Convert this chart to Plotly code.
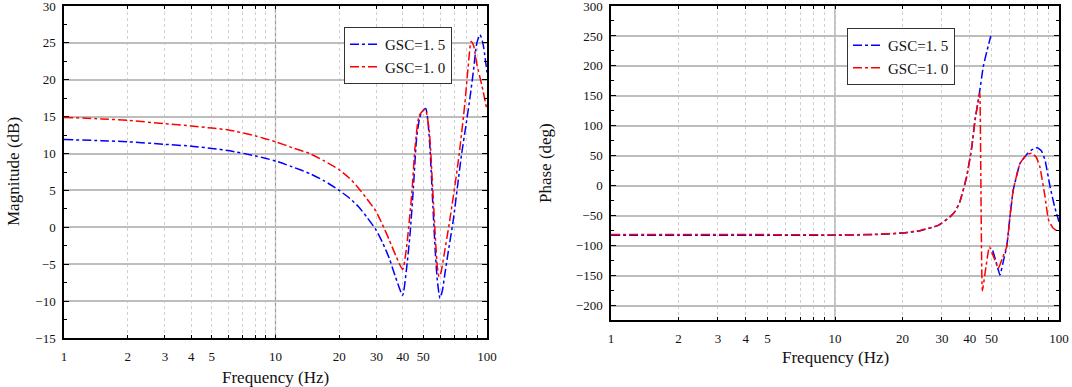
import plotly.graph_objects as go

# ---------------- data ----------------
series_names = ["GSC=1. 5", "GSC=1. 0"]

# Magnitude (dB)
freq_mag_gsc15 = [1, 1.5, 2, 3, 4, 5, 6, 8, 10, 12, 14.5, 17, 20, 22.5, 24.7, 27, 29.8, 32, 34.5, 37,
                  39.9, 41.5, 43.3, 44.9, 46.5, 48, 49.1, 51.3, 52.5, 53.7, 55.5, 57, 58.2, 59.9, 61.5,
                  63.3, 66, 69.3, 72.5, 75.9, 79.5, 83.2, 86.5, 89.4, 92.7, 95.7, 100]
mag_gsc15 = [11.9, 11.75, 11.6, 11.25, 11.0, 10.7, 10.4, 9.7, 9.0, 8.2, 7.3, 6.3, 5.0, 3.9, 2.8, 1.4,
             -0.3, -2.0, -4.2, -6.8, -9.2, -6.0, -0.8, 5.5, 12.2, 14.8, 15.6, 16.1, 14.5, 10.9, 2.8,
             -3.5, -7.1, -9.6, -8.6, -6.2, -2.8, 1.0, 5.5, 10.0, 13.8, 17.7, 21.5, 24.9, 26.1, 24.9, 21.0]

freq_mag_gsc10 = [1, 1.5, 2, 3, 4, 5, 6, 8, 10, 12, 14.5, 17, 20, 22.5, 24.7, 27, 29.8, 32, 34.5, 37,
                  39.9, 41.5, 44.1, 45.7, 47.9, 51, 53.3, 55.5, 58.2, 59.3, 60.5, 62.1, 66.7, 73.1,
                  78.6, 81, 84.2, 86.5, 89.4, 94.8, 100]
mag_gsc10 = [14.9, 14.7, 14.5, 14.05, 13.75, 13.45, 13.2, 12.4, 11.6, 10.8, 10.0, 9.0, 7.8, 6.6, 5.3,
             3.9, 2.2, 0.4, -1.7, -3.8, -5.7, -3.1, 4.6, 10.9, 15.2, 16.0, 13.2, 4.6, -5.3, -6.7,
             -6.2, -4.4, 1.0, 8.9, 16.8, 21.0, 25.2, 24.6, 22.2, 19.1, 15.9]

# Phase (deg)  (None = wrap gap)
freq_ph_gsc15 = [1, 2, 5, 10, 15, 20, 24, 28.9, 32.6, 34.5, 36.1, 38.7, 40.8, 42.2, 43.9, 45.9, 47.6,
                 49.6, None, 50.6, 52.5, 54.5, 56.5, 58.4, 60.4, 62.5, 67, 71.7, 75.5, 80, 83.5, 86.6,
                 91.2, 95.6, 100]
ph_gsc15 = [-82.5, -82.5, -82.5, -82.5, -81.5, -79, -75, -66, -52, -42, -26.5, 15, 65, 110, 148.6,
            198.8, 223.8, 250, None, -108, -128, -149, -125, -101.6, -51.5, -7, 37.5, 52, 60, 63.6,
            58, 43, -1.5, -35, -60]

freq_ph_gsc10 = [1, 2, 5, 10, 15, 20, 24, 28.9, 32.6, 34.5, 36.1, 38.7, 40.8, 42.2, 43.9, 44.3, 45.5,
                 47.2, 48.9, 51, 53.6, 56, 58.4, 60.4, 62.5, 67, 71.7, 75.5, 79, 82.1, 86.6, 89.8,
                 94.3, 100]
ph_gsc10 = [-81.5, -81.5, -81.5, -82, -81, -78.5, -74.5, -66, -52, -42, -26.5, 15, 65, 110, 148.6,
            155, -175, -135, -101.6, -118, -137.6, -120, -101.6, -51.5, -7, 37.5, 51.4, 54.2, 48,
            31.9, -18, -57, -71, -77]

x_tickvals = [1, 2, 3, 4, 5, 6, 7, 8, 9, 10, 20, 30, 40, 50, 60, 70, 80, 90, 100]
x_ticktext = ["1", "2", "3", "4", "5", "", "", "", "", "10", "20", "30", "40", "50", "", "", "", "", "100"]
mag_ticks = [-15, -10, -5, 0, 5, 10, 15, 20, 25, 30]
phase_ticks = [-200, -150, -100, -50, 0, 50, 100, 150, 200, 250, 300]

# ---------------- styling ----------------
W, H = 1072, 387
FONT = "'Liberation Serif', 'DejaVu Serif', serif"
colors = ["#0000ff", "#ff0000"]


def px(x):
    return x / W


def py(y):
    return 1 - y / H


fig = go.Figure()


def add(x, y, name, color, xa, ya, legend, smooth):
    fig.add_trace(go.Scatter(
        x=x, y=y, name=name, mode="lines", xaxis=xa, yaxis=ya, legend=legend,
        connectgaps=False,
        line=dict(color=color, width=1.5, dash="dashdot", shape="spline", smoothing=smooth)))


add(freq_mag_gsc15, mag_gsc15, series_names[0], colors[0], "x", "y", "legend", 0.6)
add(freq_mag_gsc10, mag_gsc10, series_names[1], colors[1], "x", "y", "legend", 0.6)
add(freq_ph_gsc15, ph_gsc15, series_names[0], colors[0], "x2", "y2", "legend2", 0.4)
add(freq_ph_gsc10, ph_gsc10, series_names[1], colors[1], "x2", "y2", "legend2", 0.4)


def xaxis(domain, anchor):
    return dict(type="log", range=[0, 2], domain=domain, anchor=anchor,
                tickmode="array", tickvals=x_tickvals, ticktext=x_ticktext,
                showgrid=True, gridcolor="#d0d0d0", griddash="dot", gridwidth=1,
                ticks="inside", ticklen=3, tickcolor="black", tickwidth=1,
                showline=True, linecolor="black", linewidth=1.5, mirror="ticks",
                tickfont=dict(family=FONT, size=13, color="#111"),
                ticklabelstandoff=6, ticklabeloverflow="allow",
                automargin=False, zeroline=False)


def yaxis(domain, anchor, rng, ticks, minor_dtick):
    return dict(range=rng, domain=domain, anchor=anchor,
                tickmode="array", tickvals=ticks,
                showgrid=True, gridcolor="#bdbdbd", gridwidth=1.5,
                ticks="inside", ticklen=5, tickcolor="black", tickwidth=1,
                minor=dict(ticks="inside", ticklen=3, dtick=minor_dtick, tick0=0,
                           tickcolor="black", showgrid=False),
                showline=True, linecolor="black", linewidth=1.5, mirror="ticks",
                tickfont=dict(family=FONT, size=13, color="#111"),
                ticklabelstandoff=4, ticklabeloverflow="allow",
                automargin=False, zeroline=False)


left_x = [px(64), px(487)]
left_y = [py(338), py(6)]
right_x = [px(611), px(1059)]
right_y = [py(320), py(6)]

legend_style = dict(bgcolor="white", bordercolor="#333", borderwidth=1,
                    font=dict(family=FONT, size=15, color="#111"),
                    xanchor="left", yanchor="top", tracegroupgap=0)

title_font = dict(family=FONT, size=17, color="#111")

fig.update_layout(
    width=W, height=H,
    margin=dict(l=0, r=0, t=0, b=0),
    paper_bgcolor="white", plot_bgcolor="white",
    font=dict(family=FONT, color="#111"),
    xaxis=xaxis(left_x, "y"),
    yaxis=yaxis(left_y, "x", [-15, 30], mag_ticks, 2.5),
    xaxis2=xaxis(right_x, "y2"),
    yaxis2=yaxis(right_y, "x2", [-224, 300], phase_ticks, 25),
    legend=dict(x=px(344), y=py(27), **legend_style),
    legend2=dict(x=px(847), y=py(28), **legend_style),
    showlegend=True,
    shapes=[
        dict(type="line", xref="x", yref="y domain", x0=10, x1=10, y0=0, y1=1,
             line=dict(color="#9a9a9a", width=1.2), layer="below"),
        dict(type="line", xref="x2", yref="y2 domain", x0=10, x1=10, y0=0, y1=1,
             line=dict(color="#9a9a9a", width=1.2), layer="below"),
    ],
    annotations=[
        dict(text="Magnitude (dB)", xref="paper", yref="paper", x=px(13), y=py(172),
             textangle=-90, showarrow=False, font=title_font,
             xanchor="center", yanchor="middle"),
        dict(text="Frequency (Hz)", xref="paper", yref="paper", x=px(275.5), y=py(377),
             showarrow=False, font=title_font, xanchor="center", yanchor="middle"),
        dict(text="Phase (deg)", xref="paper", yref="paper", x=px(546), y=py(163),
             textangle=-90, showarrow=False, font=title_font,
             xanchor="center", yanchor="middle"),
        dict(text="Frequency (Hz)", xref="paper", yref="paper", x=px(835), y=py(357),
             showarrow=False, font=title_font, xanchor="center", yanchor="middle"),
    ],
)

# remove the default 8px page margin so the figure fills the window exactly
fig.write_html("out.html", config={"displayModeBar": False},
               post_script="document.body.style.margin='0';")
